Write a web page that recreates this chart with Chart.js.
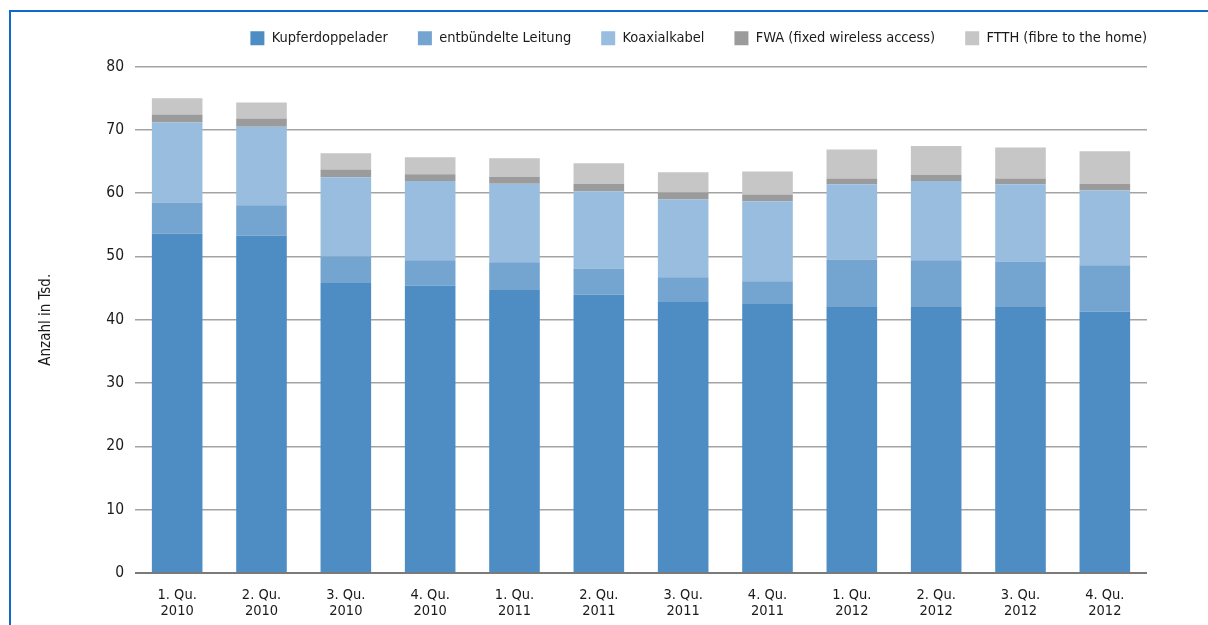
<!DOCTYPE html>
<html>
<head>
<meta charset="utf-8">
<script src="https://cdn.jsdelivr.net/npm/chart.js@4.4.1/dist/chart.umd.min.js"></script>
<style>
  html, body { margin: 0; padding: 0; background: #ffffff; }
  #wrap { position: relative; width: 1208px; height: 625px; overflow: hidden; }
  #frame { position: absolute; left: 9px; top: 10px; width: 1300px; height: 700px;
           border-top: 2px solid #1068c8; border-left: 2px solid #1068c8; }
  canvas { position: absolute; left: 0; top: 0; }
</style>
</head>
<body>
<div id="wrap">
  <div id="frame"></div>
  <canvas id="c" width="1208" height="625"></canvas>
</div>
<script>
const categories = [
  ['1. Qu.', '2010'], ['2. Qu.', '2010'], ['3. Qu.', '2010'], ['4. Qu.', '2010'],
  ['1. Qu.', '2011'], ['2. Qu.', '2011'], ['3. Qu.', '2011'], ['4. Qu.', '2011'],
  ['1. Qu.', '2012'], ['2. Qu.', '2012'], ['3. Qu.', '2012'], ['4. Qu.', '2012']
];
const seriesNames = ['Kupferdoppelader', 'entbündelte Leitung', 'Koaxialkabel', 'FWA (fixed wireless access)', 'FTTH (fibre to the home)'];
const kupfer  = [53.6, 53.3, 45.8, 45.4, 44.7, 44.0, 42.8, 42.5, 42.0, 42.0, 42.0, 41.3];
const entb    = [4.9, 4.8, 4.2, 4.0, 4.4, 4.1, 3.9, 3.6, 7.5, 7.4, 7.2, 7.3];
const koax    = [12.7, 12.4, 12.5, 12.5, 12.4, 12.2, 12.3, 12.6, 11.9, 12.5, 12.2, 11.8];
const fwa     = [1.2, 1.3, 1.25, 1.1, 1.1, 1.2, 1.1, 1.1, 0.9, 0.95, 0.9, 1.1];
const ftth    = [2.6, 2.5, 2.55, 2.65, 2.9, 3.2, 3.2, 3.6, 4.6, 4.6, 4.9, 5.1];
const yTicks  = [0, 10, 20, 30, 40, 50, 60, 70, 80];
const yTitle  = 'Anzahl in Tsd.';

const colors = ['#4e8dc4', '#73a5d0', '#99bdde', '#9b9b9b', '#c6c6c6'];
const FONT = '"Liberation Sans Narrow", "DejaVu Sans Condensed", "Roboto", sans-serif';

const seriesData = [kupfer, entb, koax, fwa, ftth];
const datasets = seriesData.map((d, i) => ({
  label: seriesNames[i],
  data: d,
  backgroundColor: colors[i],
  borderWidth: 0,
  categoryPercentage: 0.6,
  barPercentage: 1.0,
  stack: 's'
}));

const legendShift = {
  id: 'legendShift',
  afterLayout(chart) {
    const lg = chart.legend;
    if (!lg) return;
    lg.left += 30; lg.right += 30;
    lg.top -= 11; lg.bottom -= 11;
  }
};

new Chart(document.getElementById('c'), {
  type: 'bar',
  data: { labels: categories, datasets },
  plugins: [legendShift],
  options: {
    responsive: false,
    animation: false,
    devicePixelRatio: 1,
    layout: { padding: { top: 12, right: 61, bottom: 0, left: 0 } },
    plugins: {
      tooltip: { enabled: false },
      legend: {
        position: 'top',
        align: 'end',
        labels: {
          boxWidth: 14,
          boxHeight: 14,
          padding: 30,
          color: '#1a1a1a',
          font: { family: FONT, size: 14.5 }
        }
      }
    },
    scales: {
      x: {
        stacked: true,
        grid: { display: false },
        border: { display: false },
        ticks: {
          color: '#1a1a1a',
          font: { family: FONT, size: 14.5, lineHeight: 1.05 },
          padding: 7,
          maxRotation: 0,
          autoSkip: false
        },
        afterFit(scale) { scale.height = 52; }
      },
      y: {
        stacked: true,
        min: 0,
        max: 80,
        afterBuildTicks(scale) { scale.ticks = yTicks.map(v => ({ value: v })); },
        grid: {
          drawTicks: false,
          color: ctx => ctx.tick && ctx.tick.value === 0 ? '#7a7a7a' : '#a3a3a3',
          lineWidth: ctx => ctx.tick && ctx.tick.value === 0 ? 2 : 1.5
        },
        border: { display: false },
        ticks: {
          color: '#1a1a1a',
          font: { family: FONT, size: 15.5 },
          padding: 11
        },
        title: {
          display: true,
          text: yTitle,
          color: '#1a1a1a',
          font: { family: FONT, size: 15, lineHeight: 1.2 },
          padding: { top: 37, bottom: 0 }
        },
        afterFit(scale) { scale.width = 135; }
      }
    }
  }
});
</script>
</body>
</html>
